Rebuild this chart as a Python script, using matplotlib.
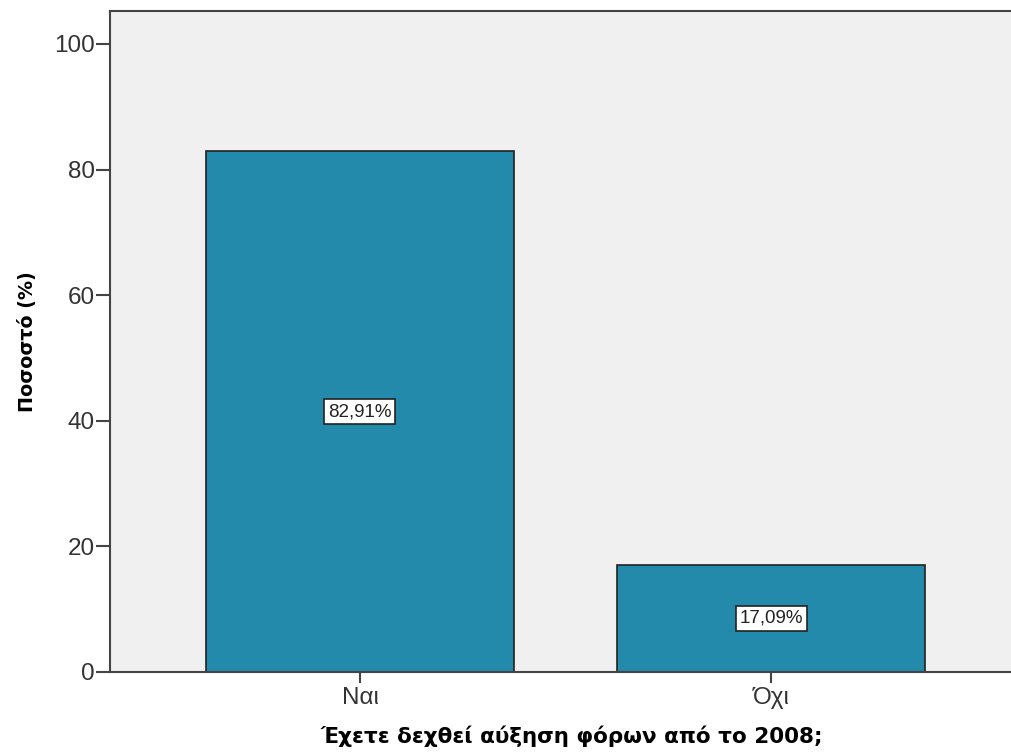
import numpy as np
import matplotlib.pyplot as plt

plt.rcParams['font.family'] = ['Liberation Sans', 'DejaVu Sans']

# data
categories = ['Ναι', 'Όχι']
percent = [82.91, 17.09]
value_labels = ['82,91%', '17,09%']

fig = plt.figure(figsize=(10.12, 7.55), dpi=100)
ax = fig.add_axes([110 / 1012, 83 / 755, 902 / 1012, 661 / 755])
ax.set_facecolor('#f0f0f0')

x = np.arange(len(categories))
ax.bar(x, percent, width=0.75, color='#238aab', edgecolor='#222222', linewidth=1.2, zorder=2)

for xi, val, lab in zip(x, percent, value_labels):
    ax.text(xi, val / 2, lab, ha='center', va='center', fontsize=13.5, color='#222222', zorder=3,
            bbox=dict(boxstyle='square,pad=0.2', facecolor='white', edgecolor='#222222', linewidth=1.2))

ax.set_xlim(-0.608, 1.586)
ax.set_ylim(0, 105.25)
ax.set_xticks(x)
ax.set_xticklabels(categories)
ax.set_yticks([0, 20, 40, 60, 80, 100])

for side in ['left', 'bottom', 'top']:
    ax.spines[side].set_color('#444444')
    ax.spines[side].set_linewidth(1.5)
ax.spines['right'].set_visible(False)

ax.tick_params(axis='y', length=10, width=1.5, color='#444444', labelsize=17.5, labelcolor='#333333', pad=1)
ax.tick_params(axis='x', length=8, width=1.5, color='#444444', labelsize=17.5, labelcolor='#333333', pad=3)

ax.set_ylabel('Ποσοστό (%)', fontsize=13.8, fontweight='bold', family=['DejaVu Sans'], labelpad=12)
ax.set_xlabel('Έχετε δεχθεί αύξηση φόρων από το 2008;', fontsize=15.5, fontweight='bold',
              family=['DejaVu Sans'], labelpad=12)
ax.xaxis.set_label_coords(0.512, -0.081)

plt.savefig('out.png', dpi=100)
